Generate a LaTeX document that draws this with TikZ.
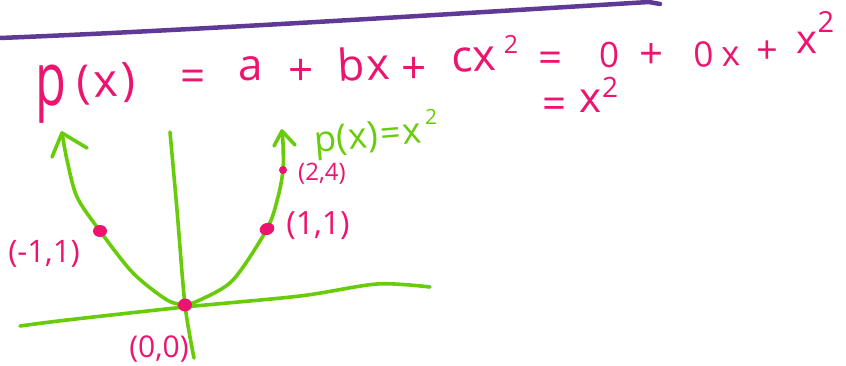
\documentclass[tikz,border=0pt]{standalone}
\usepackage{fontspec}
\setmainfont{Open Sans}
\begin{document}
\begin{tikzpicture}[x=1pt,y=-1pt,
  pinktxt/.style={text=penpink,inner sep=0pt,font=\fontsize{#1}{#1}\selectfont},
  pinktxt/.default=44,
  greentxt/.style={text=pengreen,inner sep=0pt,font=\fontsize{#1}{#1}\selectfont},
  greenline/.style={draw=pengreen,line width=3.6pt,line cap=round,line join=round},
  dotmark/.style={fill=penpink,draw=none}]
\definecolor{penpink}{RGB}{236,20,110}
\definecolor{pengreen}{RGB}{104,204,10}
\definecolor{penpurple}{RGB}{96,56,150}
\useasboundingbox (0,0) rectangle (846,366);
% purple divider
\coordinate (pu1) at (0,38);
\coordinate (pu2) at (660,4);
\draw[penpurple,line width=4.5pt,line cap=round] (pu1) .. controls (200,30) and (450,14) .. (649,2) -- (pu2);
% formula
\node[pinktxt=48] (tp) at (51,94) {\scalebox{1.05}[1.55]{p}};
\node[pinktxt=46,rotate=3] (tpx) at (106,84) {(\kern3pt x\kern4pt)};
\node[pinktxt] (te1) at (193,81) {=};
\node[pinktxt] (ta) at (251,69) {a};
\node[pinktxt] (tpl1) at (301,72) {+};
\node[pinktxt,rotate=3] (tbx) at (364,64) {b\kern2pt x};
\node[pinktxt] (tpl2) at (414,70) {+};
\node[pinktxt,rotate=3] (tcx) at (474,60) {cx};
\node[pinktxt=25] (tc2) at (511,44) {2};
\node[pinktxt=42] (te2) at (551,62) {=};
\node[pinktxt=35] (t0a) at (609,55) {0};
\node[pinktxt=42] (tpl3) at (651,56) {+};
\node[pinktxt=35,rotate=3] (t0x) at (717,54) {0\kern8pt x};
\node[pinktxt=38] (tpl4) at (767,52) {+};
\node[pinktxt=40] (tx) at (807,43) {x};
\node[pinktxt=29] (tx2) at (826,22) {2};
\node[pinktxt=42] (te3) at (555,108) {=};
\node[pinktxt=42] (tsx) at (590,101) {x};
\node[pinktxt=28] (tsx2) at (610,87) {2};
% axes
\draw[greenline] plot[smooth] coordinates {(20,326) (67,320) (185,307) (300,296) (377,284) (430,287)};
\draw[greenline] plot[smooth] coordinates {(170,132) (177,210) (185,305) (194,358)};
% parabola
\coordinate (O) at (185,305);
\coordinate (Lm) at (100,231);
\coordinate (Rm) at (267,229);
\coordinate (R2) at (283,170);
\coordinate (Ltip) at (62,133);
\coordinate (Rtip) at (282,131);
\draw[greenline] plot[smooth] coordinates {(O) (167,300) (133,273) (Lm) (77,197) (67,160) (Ltip)};
\draw[greenline] plot[smooth] coordinates {(O) (200,300) (233,280) (Rm) (278,197) (R2) (283,143) (Rtip)};
\coordinate (Lw1) at (52,157);
\coordinate (Lw2) at (87,148);
\coordinate (Rw1) at (274,146);
\coordinate (Rw2) at (295,145);
\draw[greenline] (Lw1) -- (Ltip) -- (Lw2);
\draw[greenline] (Rw1) -- (Rtip) -- (Rw2);
\node[greentxt=36,rotate=5] (glab) at (368,139) {p(\kern1pt x\kern1pt)\kern2pt=\kern1pt x};
\node[greentxt=21] (glab2) at (431,117) {2};
% dots
\fill[dotmark] (Lm) ellipse[x radius=7,y radius=6];
\fill[dotmark,rotate around={20:(Rm)}] (Rm) ellipse[x radius=7.5,y radius=6];
\fill[dotmark] (R2) circle[radius=4];
\fill[dotmark] (O) ellipse[x radius=7,y radius=6.5];
% labels
\node[pinktxt=31] (lL) at (44,254) {(-1,1)};
\node[pinktxt=32] (lR) at (318,226) {(1,1)};
\node[pinktxt=24] (l24) at (322,174) {(2,4)};
\node[pinktxt=30] (lO) at (159,349) {(0,0)};
\end{tikzpicture}
\end{document}
